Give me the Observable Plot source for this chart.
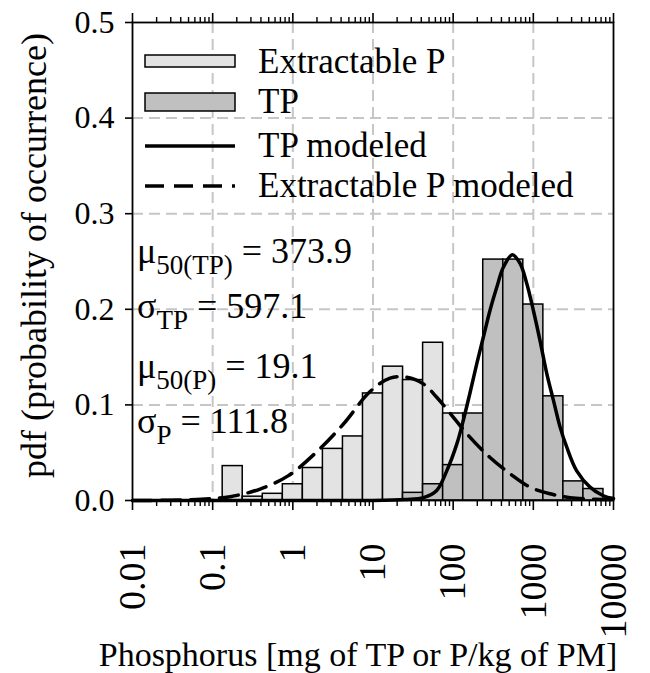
<!DOCTYPE html>
<html>
<head>
<meta charset="utf-8">
<script src="https://cdn.jsdelivr.net/npm/d3@7"></script>
<script src="https://cdn.jsdelivr.net/npm/@observablehq/plot@0.6"></script>
<style>
  html, body { margin: 0; padding: 0; background: white; }
  #chart svg { display: block; }
</style>
</head>
<body>
<div id="chart"></div>
<script>
// Axis ticks
const decadeTicks = [0.01, 0.1, 1, 10, 100, 1000, 10000];
const decadeLabels = ["0.01", "0.1", "1", "10", "100", "1000", "10000"];
const minorMultipliers = [2, 3, 4, 5, 6, 7, 8, 9];
const yTicks = [0, 0.1, 0.2, 0.3, 0.4, 0.5];
const yTickLabels = ["0.0", "0.1", "0.2", "0.3", "0.4", "0.5"];

// Histogram bins: centres given as log10 of concentration, width 0.25 log units
const binWidthLog = 0.25;
const extractableCenters = [-0.75, -0.5, -0.25, 0, 0.25, 0.5, 0.75, 1, 1.25, 1.5, 1.75, 2];
const extractableValues = [0.036, 0.004, 0.007, 0.017, 0.034, 0.054, 0.067, 0.112, 0.140, 0.126, 0.165, 0.091];
const tpCenters = [1.5, 1.75, 2, 2.25, 2.5, 2.75, 3, 3.25, 3.5, 3.75];
const tpValues = [0.008, 0.017, 0.037, 0.091, 0.252, 0.252, 0.205, 0.109, 0.020, 0.012];

// Modeled densities (log10 of concentration, pdf)
const tpModelLogX = [-2, 0, 1, 1.4, 1.63, 1.795, 1.92, 2.045, 2.127, 2.211, 2.294, 2.377, 2.46, 2.544, 2.626, 2.738, 2.834, 2.918, 3.0, 3.084, 3.167, 3.25, 3.333, 3.416, 3.541, 3.707, 3.873, 4.0];
const tpModelY    = [0, 0, 0, 0.001, 0.003, 0.0105, 0.031, 0.059, 0.084, 0.113, 0.143, 0.171, 0.199, 0.223, 0.244, 0.257, 0.248, 0.227, 0.199, 0.167, 0.133, 0.105, 0.077, 0.056, 0.031, 0.014, 0.005, 0.002];
const epModelLogX = [-2, -1.2, -0.782, -0.408, -0.055, 0.299, 0.631, 0.964, 1.213, 1.421, 1.628, 1.795, 2.003, 2.211, 2.46, 2.71, 2.959, 3.208, 3.458, 3.873, 4.0];
const epModelY    = [0, 0.001, 0.004, 0.012, 0.026, 0.051, 0.080, 0.114, 0.128, 0.129, 0.122, 0.108, 0.087, 0.066, 0.045, 0.028, 0.014, 0.007, 0.003, 0.001, 0.001];

// Legend entries and fitted parameters
const legendLabels = ["Extractable P", "TP", "TP modeled", "Extractable P modeled"];
const statLines = [
  {sym: "\u03bc", sub: "50(TP)", value: "373.9"},
  {sym: "\u03c3", sub: "TP", value: "597.1"},
  {sym: "\u03bc", sub: "50(P)", value: "19.1"},
  {sym: "\u03c3", sub: "P", value: "111.8"}
];

const xTitle = "Phosphorus [mg of TP or P/kg of PM]";
const yTitle = "pdf (probability of occurrence)";

const toBins = (centers, values) => centers.map((c, i) => ({
  x1: Math.pow(10, c - binWidthLog / 2),
  x2: Math.pow(10, c + binWidthLog / 2),
  v: values[i]
}));
const toCurve = (lx, ys) => lx.map((l, i) => ({x: Math.pow(10, l), y: ys[i]}));

const extractableBins = toBins(extractableCenters, extractableValues);
const tpBins = toBins(tpCenters, tpValues);
const tpCurve = toCurve(tpModelLogX, tpModelY);
const epCurve = toCurve(epModelLogX, epModelY);
const minorTicks = decadeTicks.slice(0, -1).flatMap(d => minorMultipliers.map(m => m * d));
const yLabelOf = new Map(yTicks.map((d, i) => [d, yTickLabels[i]]));
const xTickRows = decadeTicks.map((d, i) => ({x: d, label: decadeLabels[i]}));

const FONT = "'Liberation Serif', 'Times New Roman', Times, serif";
const gridStyle = {stroke: "#c6c6c6", strokeOpacity: 1, strokeWidth: 2, strokeDasharray: "11,6"};

const plot = Plot.plot({
  width: 650,
  height: 673,
  marginTop: 22,
  marginLeft: 132,
  marginRight: 37,
  marginBottom: 173,
  x: {type: "log", domain: [0.01, 10000]},
  y: {domain: [0, 0.5]},
  style: {fontFamily: FONT, fontSize: "32px", color: "black", background: "white", overflow: "visible"},
  marks: [
    Plot.gridX(decadeTicks.slice(1, -1), gridStyle),
    Plot.gridY(yTicks.slice(1, -1), gridStyle),
    Plot.rect(extractableBins, {x1: "x1", x2: "x2", y1: 0, y2: "v", fill: "#e3e3e3", stroke: "black", strokeWidth: 1.5}),
    Plot.rect(tpBins, {x1: "x1", x2: "x2", y1: 0, y2: "v", fill: "#c0c0c0", stroke: "black", strokeWidth: 1.5}),
    Plot.line(epCurve, {x: "x", y: "y", curve: "catmull-rom", stroke: "black", strokeWidth: 3.5, strokeDasharray: "19,10"}),
    Plot.line(tpCurve, {x: "x", y: "y", curve: "catmull-rom", stroke: "black", strokeWidth: 3.5}),
    Plot.frame({stroke: "black", strokeWidth: 1.8}),
    // bottom axis: decade and minor ticks, rotated decade labels
    Plot.axisX(decadeTicks, {anchor: "bottom", tickSize: 10, strokeWidth: 1.6, tickFormat: () => "", label: null}),
    Plot.axisX(minorTicks, {anchor: "bottom", tickSize: 6, strokeWidth: 1.4, tickFormat: () => "", label: null}),
    Plot.text(xTickRows, {x: "x", text: "label", frameAnchor: "bottom", rotate: -90, textAnchor: "end",
      lineAnchor: "middle", dy: 43, fontSize: 38, fill: "black"}),
    // top axis: ticks only
    Plot.axisX(decadeTicks, {anchor: "top", tickSize: 10, strokeWidth: 1.6, tickFormat: () => "", label: null}),
    Plot.axisX(minorTicks, {anchor: "top", tickSize: 6, strokeWidth: 1.4, tickFormat: () => "", label: null}),
    Plot.axisY(yTicks, {anchor: "left", tickSize: 7, strokeWidth: 1.6, tickPadding: 11,
      tickFormat: d => yLabelOf.get(d), fontSize: 32, label: null}),
    Plot.text([yTitle], {frameAnchor: "left", rotate: -90, textAnchor: "middle", dx: -98, dy: -6, fontSize: 36, fill: "black"}),
    Plot.text([xTitle], {frameAnchor: "bottom", dy: 165, dx: -15, fontSize: 34, fill: "black"})
  ]
});

document.getElementById("chart").appendChild(plot);

// Legend and fitted-parameter annotations inside the plot area
const svg = d3.select(plot);
const legend = svg.append("g").attr("font-family", FONT).attr("font-size", 35)
  .attr("fill", "black").attr("text-anchor", "start");
const boxX = 145, boxW = 90, textX = 258;
legend.append("rect").attr("x", boxX).attr("y", 55).attr("width", boxW).attr("height", 12)
  .attr("fill", "#e3e3e3").attr("stroke", "black").attr("stroke-width", 1.5);
legend.append("rect").attr("x", boxX).attr("y", 93).attr("width", boxW).attr("height", 18)
  .attr("fill", "#c0c0c0").attr("stroke", "black").attr("stroke-width", 1.5);
legend.append("line").attr("x1", boxX).attr("x2", boxX + boxW).attr("y1", 146).attr("y2", 146)
  .attr("stroke", "black").attr("stroke-width", 3.5);
legend.append("line").attr("x1", boxX).attr("x2", boxX + boxW).attr("y1", 186).attr("y2", 186)
  .attr("stroke", "black").attr("stroke-width", 3.5).attr("stroke-dasharray", "19,10");
const legendBaselines = [73, 113, 157, 197];
legendLabels.forEach((t, i) => {
  legend.append("text").attr("x", textX).attr("y", legendBaselines[i]).text(t);
});

const stats = svg.append("g").attr("font-family", FONT).attr("font-size", 36)
  .attr("fill", "black").attr("text-anchor", "start");
const statBaselines = [263, 318, 378, 433];
statLines.forEach((s, i) => {
  const t = stats.append("text").attr("x", 137).attr("y", statBaselines[i]);
  t.append("tspan").text(s.sym);
  t.append("tspan").attr("dy", 11).attr("font-size", 27).text(s.sub);
  t.append("tspan").attr("dy", -11).text(" = " + s.value);
});
</script>
</body>
</html>
